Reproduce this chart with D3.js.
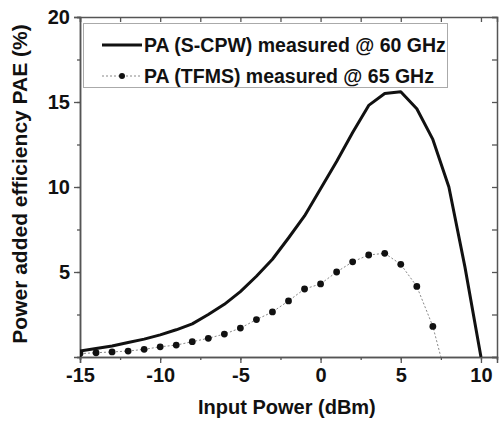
<!DOCTYPE html>
<html>
<head>
<meta charset="utf-8">
<script src="https://cdn.jsdelivr.net/npm/d3@7"></script>
<style>
  body { margin: 0; background: #fff; }
  text { font-family: "Liberation Sans", Arial, sans-serif; font-weight: bold; }
</style>
</head>
<body>
<div id="chart"></div>
<script>
// input power (dBm)
var cpwX = [-15,-14,-13,-12,-11,-10,-9,-8,-7,-6,-5,-4,-3,-2,-1,0,1,2,3,4,5,6,7,8,9,10];
// PAE (%) of PA (S-CPW) @ 60 GHz
var cpwPAE = [0.35,0.5,0.65,0.85,1.05,1.3,1.6,1.95,2.5,3.1,3.85,4.75,5.75,7.0,8.3,9.9,11.5,13.2,14.8,15.5,15.6,14.6,12.8,10.0,5.3,0];

var tfmsX = [-15,-14,-13,-12,-11,-10,-9,-8,-7,-6,-5,-4,-3,-2,-1,0,1,2,3,4,5,6,7,8];
// PAE (%) of PA (TFMS) @ 65 GHz
var tfmsPAE = [0.2,0.25,0.3,0.35,0.45,0.6,0.7,0.9,1.1,1.35,1.7,2.2,2.65,3.3,4.0,4.3,5.0,5.6,6.0,6.1,5.45,4.15,1.8,-1.8];

var xTicks = [-15,-10,-5,0,5,10];
var yTicks = [5,10,15,20];
var legendLabels = ["PA (S-CPW) measured @ 60 GHz", "PA (TFMS) measured @ 65 GHz"];

var W = 502, H = 421;
var margin = {top: 17, right: 5, bottom: 64, left: 80};
var w = W - margin.left - margin.right,
    h = H - margin.top - margin.bottom;

var svg = d3.select("#chart").append("svg")
    .attr("width", W).attr("height", H);
var g = svg.append("g").attr("transform", "translate(" + margin.left + "," + margin.top + ")");

var x = d3.scaleLinear().domain([-15, 11]).range([0, w]);
var y = d3.scaleLinear().domain([0, 20]).range([h, 0]);

var minorX = d3.range(-15, 11.01, 2.5);
var minorY = d3.range(0, 20.01, 2.5);

g.append("clipPath").attr("id", "clip")
  .append("rect").attr("width", w).attr("height", h);

// minor ticks, all sides
g.append("g").attr("transform", "translate(0," + h + ")")
  .call(d3.axisBottom(x).tickValues(minorX).tickSize(3).tickFormat(""));
g.append("g").call(d3.axisLeft(y).tickValues(minorY).tickSize(3).tickFormat(""));
g.append("g").call(d3.axisTop(x).tickValues(minorX).tickSize(-5).tickFormat(""));
g.append("g").attr("transform", "translate(" + w + ",0)")
  .call(d3.axisRight(y).tickValues(minorY).tickSize(-5).tickFormat(""));

// major axes
var xAxis = g.append("g").attr("transform", "translate(0," + h + ")")
  .call(d3.axisBottom(x).tickValues(xTicks).tickSize(6).tickPadding(5)
    .tickFormat(function(d){return String(d);}));
var yAxis = g.append("g")
  .call(d3.axisLeft(y).tickValues(yTicks).tickSize(6).tickPadding(4));

g.selectAll(".domain").attr("stroke", "#555").attr("stroke-width", 1.5);
g.selectAll(".tick line").attr("stroke", "#555").attr("stroke-width", 1.3);
xAxis.selectAll("text").attr("font-size", 20).attr("fill", "#111");
yAxis.selectAll("text").attr("font-size", 20).attr("fill", "#111");

// axis titles
svg.append("text")
  .attr("x", margin.left + x(-2.1)).attr("y", 414)
  .attr("text-anchor", "middle").attr("font-size", 20).attr("fill", "#111")
  .text("Input Power (dBm)");
svg.append("text")
  .attr("transform", "translate(27," + 184 + ") rotate(-90)")
  .attr("text-anchor", "middle").attr("font-size", 21).attr("fill", "#111")
  .text("Power added efficiency PAE (%)");

var plot = g.append("g").attr("clip-path", "url(#clip)");

var line = d3.line().x(function(d){return x(d[0]);}).y(function(d){return y(d[1]);});

var cpw = cpwX.map(function(v,i){return [v, cpwPAE[i]];});
var tfms = tfmsX.map(function(v,i){return [v, tfmsPAE[i]];});

plot.append("path").datum(tfms)
  .attr("d", line).attr("fill", "none")
  .attr("stroke", "#888").attr("stroke-width", 1).attr("stroke-dasharray", "2,2");
plot.selectAll(".dot").data(tfms).enter().append("circle")
  .attr("class", "dot")
  .attr("cx", function(d){return x(d[0]);})
  .attr("cy", function(d){return y(d[1]);})
  .attr("r", 3.4).attr("fill", "#111");

plot.append("path").datum(cpw)
  .attr("d", line).attr("fill", "none")
  .attr("stroke", "#111").attr("stroke-width", 3).attr("stroke-linejoin", "round");

// legend
var lg = svg.append("g");
lg.append("rect").attr("x", 83.5).attr("y", 23.5).attr("width", 364).attr("height", 64)
  .attr("fill", "#fff").attr("stroke", "#aaa").attr("stroke-width", 1);
lg.append("line").attr("x1", 102).attr("x2", 142).attr("y1", 45).attr("y2", 45)
  .attr("stroke", "#111").attr("stroke-width", 3);
lg.append("line").attr("x1", 102).attr("x2", 142).attr("y1", 76).attr("y2", 76)
  .attr("stroke", "#888").attr("stroke-width", 1).attr("stroke-dasharray", "2,2");
lg.append("circle").attr("cx", 122).attr("cy", 76).attr("r", 3).attr("fill", "#111");
lg.selectAll(".lgtext").data(legendLabels).enter().append("text")
  .attr("class", "lgtext")
  .attr("x", 144).attr("y", function(d,i){return 52 + i*31;})
  .attr("font-size", 19.5).attr("fill", "#111")
  .text(function(d){return d;});
</script>
</body>
</html>
